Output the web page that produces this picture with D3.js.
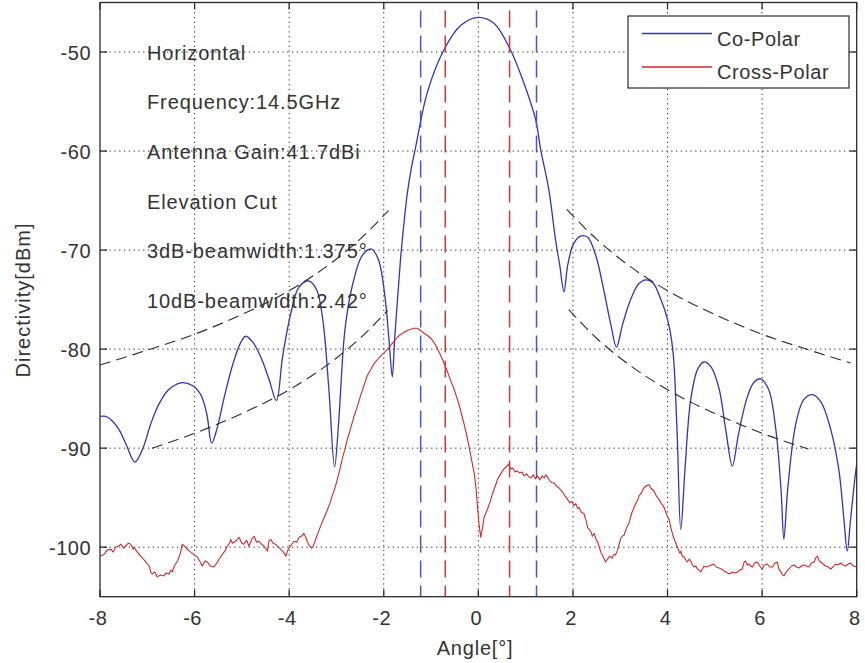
<!DOCTYPE html>
<html><head><meta charset="utf-8">
<script src="https://cdn.jsdelivr.net/npm/d3@7/dist/d3.min.js"></script>
<style>body{margin:0;background:#fff}svg{display:block}</style>
</head><body><svg id="c" width="865" height="663"></svg>
<script>
// ---------- data ----------
const xTicks = [-8, -6, -4, -2, 0, 2, 4, 6, 8];
const yTicks = [-100, -90, -80, -70, -60, -50];
const xDomain = [-8, 8];
const yDomain = [-105, -45];

const annotations = ["Horizontal", "Frequency:14.5GHz", "Antenna Gain:41.7dBi",
  "Elevation Cut", "3dB-beamwidth:1.375°", "10dB-beamwidth:2.42°"];
const legendLabels = ["Co-Polar", "Cross-Polar"];
const xLabel = "Angle[°]";
const yLabel = "Directivity[dBm]";

// Co-polar pattern [angle, dB]
const coPolar = [
[-7.99,-86.8],[-7.88,-86.8],[-7.73,-87.3],[-7.60,-88.1],[-7.45,-89.6],[-7.26,-91.4],[-7.10,-90.1],
[-6.93,-87.6],[-6.76,-85.6],[-6.55,-84.1],[-6.29,-83.4],[-6.04,-83.7],[-5.87,-84.6],[-5.74,-86.6],
[-5.64,-89.5],[-5.53,-88.1],[-5.36,-84.6],[-5.19,-81.5],[-5.02,-79.3],[-4.92,-78.7],[-4.77,-79.3],
[-4.60,-80.8],[-4.43,-83.0],[-4.27,-85.2],[-4.14,-80.8],[-3.97,-76.5],[-3.80,-73.8],[-3.59,-73.1],
[-3.42,-74.0],[-3.29,-77.0],[-3.16,-84.1],[-3.04,-91.9],[-2.95,-87.1],[-2.82,-78.0],[-2.66,-73.5],
[-2.45,-70.5],[-2.26,-69.9],[-2.11,-71.0],[-1.98,-74.5],[-1.89,-79.0],[-1.82,-82.8],[-1.77,-79.0],
[-1.71,-75.0],[-1.65,-71.2],[-1.58,-67.6],[-1.50,-64.2],[-1.42,-61.8],[-1.33,-59.7],[-1.08,-54.1],
[-0.73,-49.8],[-0.37,-47.3],[0.00,-46.5],[0.33,-47.1],[0.68,-49.8],[0.96,-53.1],[1.21,-56.8],
[1.32,-59.9],[1.49,-63.9],[1.63,-68.9],[1.72,-71.5],[1.81,-74.2],[1.89,-71.5],[2.01,-69.4],
[2.16,-68.6],[2.31,-68.7],[2.48,-70.5],[2.65,-74.0],[2.80,-77.5],[2.92,-79.8],[3.05,-77.5],
[3.22,-75.0],[3.39,-73.4],[3.54,-73.0],[3.69,-73.3],[3.86,-75.0],[4.00,-77.0],[4.11,-80.0],
[4.20,-88.1],[4.28,-98.2],[4.37,-92.1],[4.49,-85.1],[4.64,-82.0],[4.77,-81.3],[4.92,-81.8],
[5.09,-84.0],[5.23,-88.1],[5.37,-91.8],[5.50,-88.6],[5.67,-85.1],[5.82,-83.4],[5.97,-83.0],
[6.14,-84.1],[6.29,-88.1],[6.40,-94.2],[6.46,-99.2],[6.54,-94.2],[6.71,-87.6],[6.88,-85.1],
[7.06,-84.6],[7.24,-85.3],[7.45,-88.1],[7.62,-92.1],[7.73,-97.2],[7.80,-100.4],[7.87,-97.2],
[7.96,-93.1],[8.00,-91.6]
];

// Cross-polar pattern [angle, dB]
const crossPolar = [
[-7.99,-100.9],[-7.91,-100.7],[-7.85,-100.3],[-7.77,-100.2],[-7.72,-100.5],[-7.67,-100.0],[-7.61,-99.9],
[-7.56,-99.7],[-7.50,-100.1],[-7.46,-99.9],[-7.40,-99.6],[-7.35,-99.7],[-7.30,-100.2],[-7.28,-100.0],
[-7.21,-100.5],[-7.14,-100.9],[-7.08,-101.2],[-7.03,-101.5],[-6.96,-101.9],[-6.92,-102.6],[-6.89,-102.7],
[-6.84,-102.5],[-6.79,-103.0],[-6.72,-102.8],[-6.65,-102.9],[-6.60,-102.6],[-6.54,-102.7],[-6.50,-102.3],
[-6.47,-102.5],[-6.43,-101.9],[-6.36,-101.4],[-6.30,-100.6],[-6.26,-99.7],[-6.19,-100.0],[-6.14,-100.3],
[-6.08,-100.5],[-6.00,-100.8],[-5.94,-101.0],[-5.88,-101.5],[-5.84,-101.9],[-5.78,-101.4],[-5.73,-101.5],
[-5.67,-101.9],[-5.59,-102.0],[-5.53,-101.6],[-5.48,-101.2],[-5.41,-100.7],[-5.36,-100.4],[-5.31,-99.9],
[-5.26,-99.6],[-5.24,-99.2],[-5.20,-99.6],[-5.17,-99.5],[-5.11,-99.3],[-5.06,-99.0],[-5.00,-99.6],
[-4.96,-99.7],[-4.90,-99.3],[-4.85,-99.9],[-4.79,-99.2],[-4.74,-98.9],[-4.69,-99.5],[-4.64,-99.4],
[-4.58,-99.7],[-4.53,-99.9],[-4.46,-100.4],[-4.43,-99.4],[-4.39,-99.2],[-4.34,-99.6],[-4.29,-99.7],
[-4.23,-100.0],[-4.18,-100.2],[-4.12,-100.5],[-4.07,-100.9],[-4.02,-100.2],[-3.96,-99.8],[-3.90,-99.4],
[-3.84,-99.5],[-3.79,-99.0],[-3.74,-98.9],[-3.69,-98.6],[-3.65,-99.0],[-3.62,-99.4],[-3.58,-99.8],
[-3.53,-100.1],[-3.50,-100.0],[-3.44,-99.2],[-3.37,-98.3],[-3.33,-97.8],[-3.26,-97.0],[-3.19,-96.2],
[-3.14,-95.6],[-3.09,-94.8],[-3.03,-94.0],[-2.98,-93.1],[-2.93,-92.2],[-2.88,-91.1],[-2.82,-90.1],
[-2.77,-89.1],[-2.70,-88.0],[-2.63,-86.8],[-2.56,-85.8],[-2.49,-84.7],[-2.42,-83.7],[-2.35,-82.7],
[-2.28,-82.1],[-2.21,-81.5],[-2.14,-81.1],[-2.07,-80.7],[-2.00,-80.4],[-1.92,-80.0],[-1.85,-79.6],
[-1.78,-79.2],[-1.71,-78.8],[-1.64,-78.5],[-1.57,-78.3],[-1.50,-78.1],[-1.43,-78.0],[-1.36,-77.9],
[-1.30,-77.9],[-1.26,-78.0],[-1.20,-78.2],[-1.15,-78.4],[-1.08,-78.6],[-1.01,-78.9],[-0.94,-79.3],
[-0.87,-79.9],[-0.80,-80.6],[-0.73,-81.4],[-0.66,-82.2],[-0.59,-83.1],[-0.51,-84.1],[-0.44,-85.1],
[-0.37,-86.3],[-0.30,-87.6],[-0.25,-88.6],[-0.20,-89.8],[-0.15,-91.0],[-0.09,-92.5],[-0.05,-94.0],
[-0.02,-95.8],[0.01,-97.5],[0.05,-99.0],[0.09,-98.0],[0.12,-97.0],[0.19,-96.2],[0.25,-95.4],
[0.30,-94.6],[0.36,-93.8],[0.40,-93.2],[0.46,-92.7],[0.51,-92.3],[0.56,-92.0],[0.61,-91.8],
[0.64,-91.6],[0.68,-92.1],[0.73,-92.0],[0.78,-92.4],[0.82,-92.3],[0.87,-92.5],[0.92,-92.4],
[0.97,-92.8],[1.02,-92.6],[1.07,-92.9],[1.11,-93.0],[1.16,-92.7],[1.21,-93.1],[1.25,-92.8],
[1.30,-93.2],[1.35,-92.8],[1.39,-93.0],[1.43,-92.7],[1.46,-92.9],[1.51,-93.3],[1.56,-93.5],
[1.60,-93.5],[1.65,-93.8],[1.70,-94.0],[1.74,-94.2],[1.79,-94.5],[1.84,-94.9],[1.88,-95.1],
[1.93,-95.5],[1.98,-95.4],[2.02,-95.8],[2.06,-95.6],[2.10,-96.1],[2.13,-96.0],[2.18,-96.5],
[2.23,-96.6],[2.27,-97.2],[2.31,-98.0],[2.34,-98.2],[2.38,-98.4],[2.41,-98.9],[2.45,-98.6],
[2.48,-99.1],[2.53,-99.6],[2.59,-100.5],[2.64,-101.0],[2.69,-101.5],[2.73,-101.2],[2.78,-100.9],
[2.83,-101.1],[2.87,-100.7],[2.90,-100.8],[2.95,-100.2],[3.01,-99.1],[3.04,-98.9],[3.08,-98.8],
[3.13,-98.1],[3.19,-97.5],[3.24,-96.6],[3.29,-96.0],[3.33,-95.6],[3.37,-95.2],[3.40,-94.8],
[3.45,-94.5],[3.50,-94.0],[3.55,-93.8],[3.61,-93.7],[3.66,-94.1],[3.71,-94.3],[3.76,-94.8],
[3.82,-95.2],[3.87,-95.6],[3.93,-96.0],[3.98,-96.7],[4.03,-97.2],[4.08,-98.2],[4.12,-98.9],
[4.16,-99.4],[4.21,-100.0],[4.26,-100.6],[4.28,-100.4],[4.31,-100.9],[4.35,-101.0],[4.39,-101.3],
[4.42,-101.5],[4.46,-101.2],[4.49,-101.4],[4.53,-101.8],[4.56,-102.0],[4.60,-101.9],[4.63,-102.2],
[4.67,-102.3],[4.70,-102.5],[4.74,-102.2],[4.77,-101.9],[4.82,-102.0],[4.88,-101.9],[4.93,-101.8],
[4.98,-101.7],[5.03,-102.0],[5.09,-102.1],[5.14,-102.2],[5.19,-102.4],[5.24,-102.5],[5.30,-102.7],
[5.34,-102.6],[5.37,-102.5],[5.42,-102.6],[5.48,-102.5],[5.53,-102.3],[5.58,-102.2],[5.62,-101.5],
[5.65,-101.4],[5.69,-101.8],[5.72,-101.7],[5.76,-101.9],[5.79,-102.0],[5.84,-101.6],[5.90,-101.5],
[5.95,-101.9],[6.00,-102.2],[6.05,-101.8],[6.11,-101.7],[6.16,-102.0],[6.22,-102.0],[6.27,-101.6],
[6.32,-101.5],[6.36,-102.3],[6.39,-102.4],[6.43,-102.8],[6.46,-102.9],[6.51,-102.5],[6.57,-102.2],
[6.62,-101.9],[6.67,-101.8],[6.73,-102.0],[6.78,-102.1],[6.83,-101.9],[6.88,-101.8],[6.94,-101.9],
[6.99,-102.0],[7.04,-101.6],[7.10,-101.5],[7.13,-101.1],[7.17,-100.9],[7.20,-101.3],[7.24,-101.5],
[7.29,-101.7],[7.34,-101.9],[7.40,-102.0],[7.45,-102.2],[7.50,-102.0],[7.55,-101.7],[7.60,-101.8],
[7.66,-101.6],[7.71,-101.8],[7.77,-101.9],[7.82,-101.7],[7.87,-101.6],[7.93,-101.9],[8.00,-102.0]
];

// Side-lobe envelope masks [angle, dB]
const envUpperLeft  = [[-8,-81.6],[-7,-80.1],[-6,-78.5],[-5,-76.5],[-4,-74.1],[-3,-70.9],[-2.5,-68.9],[-1.9,-66.0]];
const envLowerLeft  = [[-6.9,-90.0],[-6,-88.5],[-5,-86.5],[-4,-84.1],[-3,-80.9],[-2.5,-78.9],[-1.92,-76.1]];
const envUpperRight = [[1.87,-65.9],[2.5,-68.9],[3,-70.9],[4,-74.1],[5,-76.5],[6,-78.5],[7,-80.1],[7.87,-81.4]];
const envLowerRight = [[1.91,-76.0],[2.5,-78.9],[3,-80.9],[4,-84.1],[5,-86.5],[6,-88.5],[6.98,-90.1]];

// Beamwidth edge markers (angles)
const tenDbEdges = [-1.22, 1.23];
const threeDbEdges = [-0.70, 0.66];

// ---------- drawing ----------
const W = 865, H = 663;
const P = {l: 100, r: 856.7, t: 2.5, b: 596.7};
const svg = d3.select("#c");
const x = d3.scaleLinear().domain(xDomain).range([P.l, P.r]);
const y = d3.scaleLinear().domain(yDomain).range([P.b, P.t]);
const FONT = "'Liberation Sans', Arial, Helvetica, sans-serif";
const TXT = "#333";

svg.append("rect").attr("width", W).attr("height", H).attr("fill", "#fff");
svg.append("defs").append("clipPath").attr("id", "clip")
  .append("rect").attr("x", P.l).attr("y", P.t).attr("width", P.r - P.l).attr("height", P.b - P.t);

// grid
const grid = svg.append("g").attr("stroke", "#222").attr("stroke-width", 1)
  .attr("stroke-dasharray", "1.2,3.6");
grid.selectAll(".gx").data(xTicks.slice(1, -1)).join("line")
  .attr("x1", d => x(d)).attr("x2", d => x(d)).attr("y1", P.t).attr("y2", P.b);
grid.selectAll(".gy").data(yTicks).join("line")
  .attr("y1", d => y(d)).attr("y2", d => y(d)).attr("x1", P.l).attr("x2", P.r);

const plot = svg.append("g").attr("clip-path", "url(#clip)");

// curves
const lineSmooth = d3.line().x(d => x(d[0])).y(d => y(d[1])).curve(d3.curveCatmullRom.alpha(0.5));
const lineRaw = d3.line().x(d => x(d[0])).y(d => y(d[1]));
plot.append("path").datum(coPolar).attr("d", lineSmooth)
  .attr("fill", "none").attr("stroke", "#3434b8").attr("stroke-width", 1.3);
plot.append("path").datum(crossPolar).attr("d", lineRaw)
  .attr("fill", "none").attr("stroke", "#d42a2a").attr("stroke-width", 1.1)
  .attr("stroke-linejoin", "round");

// envelopes
const lineEnv = d3.line().x(d => x(d[0])).y(d => y(d[1])).curve(d3.curveMonotoneX);
[envUpperLeft, envLowerLeft, envUpperRight, envLowerRight].forEach(e => {
  plot.append("path").datum(e).attr("d", lineEnv).attr("fill", "none")
    .attr("stroke", "#2a2a2a").attr("stroke-width", 1.1).attr("stroke-dasharray", "11,6");
});

// beamwidth verticals
plot.selectAll(".v10").data(tenDbEdges).join("line")
  .attr("x1", d => x(d)).attr("x2", d => x(d)).attr("y1", P.t + 8).attr("y2", P.b)
  .attr("stroke", "#4a56c4").attr("stroke-width", 1.5).attr("stroke-dasharray", "17,8");
plot.selectAll(".v3").data(threeDbEdges).join("line")
  .attr("x1", d => x(d)).attr("x2", d => x(d)).attr("y1", P.t + 8).attr("y2", P.b)
  .attr("stroke", "#cc3a3a").attr("stroke-width", 1.5).attr("stroke-dasharray", "17,8");

// axes box + inner ticks
const ax = svg.append("g").attr("stroke", "#2a2a2a").attr("stroke-width", 1.3);
ax.append("rect").attr("x", P.l).attr("y", P.t).attr("width", P.r - P.l).attr("height", P.b - P.t)
  .attr("fill", "none");
const TL = 7;
ax.selectAll(".tb").data(xTicks).join("line")
  .attr("x1", d => x(d)).attr("x2", d => x(d)).attr("y1", P.b).attr("y2", P.b - TL);
ax.selectAll(".tt").data(xTicks).join("line")
  .attr("x1", d => x(d)).attr("x2", d => x(d)).attr("y1", P.t).attr("y2", P.t + TL);
ax.selectAll(".tl").data(yTicks).join("line")
  .attr("y1", d => y(d)).attr("y2", d => y(d)).attr("x1", P.l).attr("x2", P.l + TL);
ax.selectAll(".tr").data(yTicks).join("line")
  .attr("y1", d => y(d)).attr("y2", d => y(d)).attr("x1", P.r).attr("x2", P.r - TL);

// tick labels
const tk = svg.append("g").attr("font-family", FONT).attr("font-size", 20).attr("fill", TXT)
  .attr("letter-spacing", "0.5px");
tk.selectAll(".xl").data(xTicks).join("text")
  .attr("x", d => x(d) - 2).attr("y", 625).attr("text-anchor", "middle").text(d => d);
tk.selectAll(".yl").data(yTicks).join("text")
  .attr("x", 91).attr("y", d => y(d) + 8).attr("text-anchor", "end").text(d => d);

// axis labels
svg.append("text").attr("x", 475).attr("y", 655).attr("text-anchor", "middle")
  .attr("font-family", FONT).attr("font-size", 20).attr("fill", TXT).attr("letter-spacing", "0.8px")
  .text(xLabel);
svg.append("text").attr("transform", "translate(30,300) rotate(-90)").attr("text-anchor", "middle")
  .attr("font-family", FONT).attr("font-size", 20).attr("fill", TXT).attr("letter-spacing", "1px")
  .text(yLabel);

// annotations
svg.append("g").selectAll("text").data(annotations).join("text")
  .attr("x", 147).attr("y", (d, i) => 59.5 + i * 49.7)
  .attr("font-family", FONT).attr("font-size", 20).attr("fill", TXT).attr("letter-spacing", "0.9px")
  .text(d => d);

// legend
const lg = svg.append("g");
lg.append("rect").attr("x", 628).attr("y", 16).attr("width", 221).attr("height", 72)
  .attr("fill", "#fff").attr("stroke", "#2a2a2a").attr("stroke-width", 1.2);
const legendColors = ["#3434b8", "#d42a2a"];
legendLabels.forEach((t, i) => {
  const yy = 33.5 + i * 33.5;
  lg.append("line").attr("x1", 642).attr("x2", 712).attr("y1", yy).attr("y2", yy)
    .attr("stroke", legendColors[i]).attr("stroke-width", 1.3);
  lg.append("text").attr("x", 717).attr("y", yy + 12).attr("font-family", FONT)
    .attr("font-size", 20).attr("fill", TXT).attr("letter-spacing", "0.6px").text(t);
});
</script></body></html>
